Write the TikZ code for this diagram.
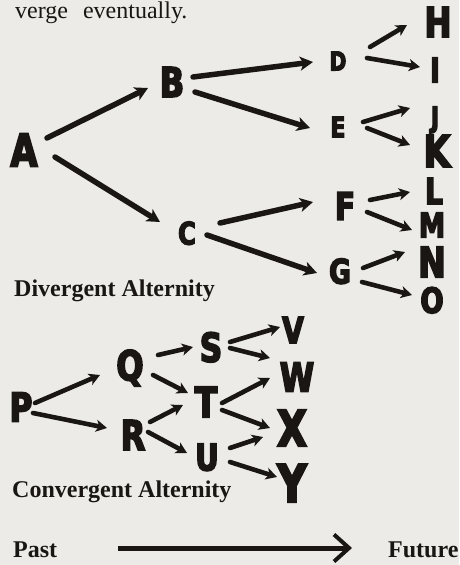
\documentclass[tikz,border=0pt]{standalone}
\usepackage{fontspec}
\setmainfont{Liberation Serif}
\newfontfamily\hwfont{DejaVu Sans}[UprightFont=* Bold, FakeStretch=0.78, FakeBold=4]
\usetikzlibrary{arrows.meta,calc}
\definecolor{paper}{RGB}{236,235,231}
\definecolor{ink}{RGB}{25,22,20}
\tikzset{
  hw/.style={font=\hwfont\fontsize{#1}{#1}\selectfont, inner sep=0pt, text depth=0pt, text=ink, anchor=center},
  caption/.style={font=\bfseries\fontsize{24}{24}\selectfont, inner sep=0pt, anchor=base west, text=ink},
  bigarr/.style={draw=ink, line width=5.5pt, line cap=round, -{Stealth[length=13pt,width=14pt,inset=3.5pt]}},
  smallarr/.style={draw=ink, line width=4.6pt, line cap=round, -{Stealth[length=11pt,width=12pt,inset=3pt]}},
}
\begin{document}
\begin{tikzpicture}[x=1pt,y=-1pt]
\fill[paper] (0,0) rectangle (459,565);
\path[use as bounding box] (0,0) rectangle (459,565);

\node[font=\fontsize{24}{24}\selectfont, inner sep=0pt, anchor=base west, text=ink] (top) at (15,18) {verge\hspace{15pt}eventually.};

% Divergent alternity
\node[hw=45] (A) at (24,150) {A};
\node[hw=41] (B) at (172,82) {B};
\node[hw=31] (C) at (187,233) {C};
\node[hw=26] (D) at (338,61) {D};
\node[hw=28] (E) at (338,127) {E};
\node[hw=38] (F) at (345,206) {F};
\node[hw=34] (G) at (340,271) {G};
\node[hw=41] (H) at (438,22) {H};
\node[hw=34] (I) at (435,70) {I};
\node[hw=29] (J) at (435,117) {J};
\node[hw=44] (K) at (437,151) {K};
\node[hw=36] (L) at (434,191) {L};
\node[hw=34] (M) at (432,225) {M};
\node[hw=42] (N) at (432,262) {N};
\node[hw=35] (O) at (432,300) {O};

\draw[bigarr] ($(A)+(23,-12)$) -- ($(B)+(-24,6)$);
\draw[bigarr] ($(A)+(31,7)$) -- ($(C)+(-27,-11)$);
\draw[bigarr] ($(B)+(21,-5)$) -- ($(D)+(-25,1)$);
\draw[bigarr] ($(B)+(23,10)$) -- ($(E)+(-28,1)$);
\draw[bigarr] ($(C)+(33,-10)$) -- ($(F)+(-32,-4)$);
\draw[bigarr] ($(C)+(20,2)$) -- ($(G)+(-23,2)$);
\draw[smallarr] ($(D)+(32,-14)$) -- ($(H)+(-31,3)$);
\draw[smallarr] ($(D)+(29,-3)$) -- ($(I)+(-15,-3)$);
\draw[smallarr] ($(E)+(25,-5)$) -- ($(J)+(-25,-9)$);
\draw[smallarr] ($(E)+(29,1)$) -- ($(K)+(-27,-6)$);
\draw[smallarr] ($(F)+(25,-6)$) -- ($(L)+(-24,1)$);
\draw[smallarr] ($(F)+(22,6)$) -- ($(M)+(-20,5)$);
\draw[smallarr] ($(G)+(23,-3)$) -- ($(N)+(-27,-10)$);
\draw[smallarr] ($(G)+(22,11)$) -- ($(O)+(-20,-5)$);

\node[caption] (div) at (14,296) {Divergent Alternity};

% Convergent alternity
\node[hw=40] (P) at (21,407) {P};
\node[hw=41] (Q) at (130,365) {Q};
\node[hw=41] (R) at (133,435) {R};
\node[hw=40] (S) at (211,347) {S};
\node[hw=42] (T) at (206,402) {T};
\node[hw=37] (U) at (207,457) {U};
\node[hw=36] (V) at (293,330) {V};
\node[hw=40] (W) at (297,377) {W};
\node[hw=50] (X) at (292,428) {X};
\node[hw=52] (Y) at (292,483) {Y};

\draw[smallarr] ($(P)+(14,-4)$) -- ($(Q)+(-30,10)$);
\draw[smallarr] ($(P)+(12,6)$) -- ($(R)+(-26,-7)$);
\draw[smallarr] ($(Q)+(28,-10)$) -- ($(S)+(-18,0)$);
\draw[smallarr] ($(Q)+(23,10)$) -- ($(T)+(-18,-9)$);
\draw[smallarr] ($(R)+(17,-13)$) -- ($(T)+(-23,3)$);
\draw[smallarr] ($(R)+(15,-3)$) -- ($(U)+(-20,-4)$);
\draw[smallarr] ($(S)+(19,-5)$) -- ($(V)+(-13,-3)$);
\draw[smallarr] ($(S)+(19,1)$) -- ($(W)+(-27,-19)$);
\draw[smallarr] ($(T)+(16,1)$) -- ($(W)+(-27,1)$);
\draw[smallarr] ($(T)+(16,8)$) -- ($(X)+(-22,0)$);
\draw[smallarr] ($(U)+(23,-9)$) -- ($(X)+(-29,9)$);
\draw[smallarr] ($(U)+(23,5)$) -- ($(Y)+(-15,-6)$);

\node[caption] (conv) at (12,497) {Convergent Alternity};

% Time axis
\node[caption] (past) at (13,557) {Past};
\node[caption] (future) at (388,557) {Future};
\draw[draw=ink, line width=5pt, -{Straight Barb[length=15pt,width=27pt,line width=4pt]}] ($(past.base east)+(61,-9)$) -- ($(future.base west)+(-36,-9)$);
\end{tikzpicture}
\end{document}
